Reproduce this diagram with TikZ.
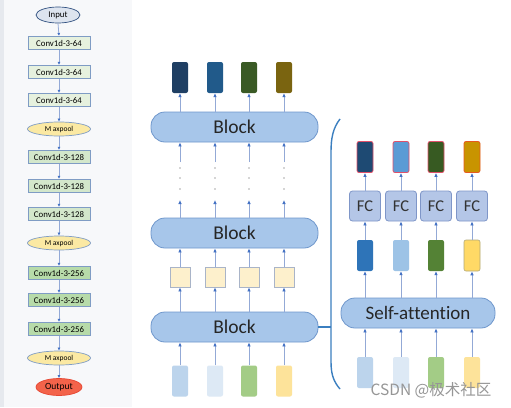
\documentclass[tikz,border=0pt]{standalone}
\usepackage{fontspec}
\setmainfont{Carlito}[Ligatures={NoCommon}]
\newfontfamily\cjkf{Noto Sans CJK SC}
\usetikzlibrary{arrows.meta,shapes.geometric}
\definecolor{blockfill}{HTML}{A7C6EA}
\definecolor{blockdraw}{HTML}{6F97CC}
\definecolor{arrline}{HTML}{93A9D6}
\definecolor{arrhead}{HTML}{4472C4}
\definecolor{boxdraw}{HTML}{7F9CC4}
\definecolor{gA}{HTML}{E6F1DE}
\definecolor{gB}{HTML}{D3E7CB}
\definecolor{gC}{HTML}{B7DBA9}
\definecolor{poolfill}{HTML}{FBE9A3}
\definecolor{outfill}{HTML}{F3634A}
\definecolor{infill}{HTML}{DDE4EF}
\definecolor{oA}{HTML}{1F3F63}
\definecolor{oB}{HTML}{215A8A}
\definecolor{oC}{HTML}{3A5A25}
\definecolor{oD}{HTML}{7A6410}
\definecolor{iA}{HTML}{BCD4EC}
\definecolor{iB}{HTML}{DDE9F5}
\definecolor{iC}{HTML}{A3CC86}
\definecolor{iD}{HTML}{FDE39A}
\definecolor{sqfill}{HTML}{FDF0CC}
\definecolor{sqdraw}{HTML}{A9B4C8}
\definecolor{fcfill}{HTML}{B4C6E7}
\definecolor{fcdraw}{HTML}{7F96C8}
\definecolor{tA}{HTML}{1E4A73}
\definecolor{tB}{HTML}{5B9BD5}
\definecolor{tC}{HTML}{375A22}
\definecolor{tD}{HTML}{C89400}
\definecolor{mA}{HTML}{2E74B8}
\definecolor{mB}{HTML}{9DC3E6}
\definecolor{mC}{HTML}{548235}
\definecolor{mD}{HTML}{FFD966}
\definecolor{redline}{HTML}{E0506A}
\definecolor{bracecol}{HTML}{3B7FC0}
\tikzset{
  arr/.style={draw=arrline, line width=0.9pt, -{Latex[length=4pt,width=3.6pt,color=arrhead]}},
  sarr/.style={draw=arrline, line width=0.8pt, -{Latex[length=3pt,width=3pt,color=arrhead]}},
  convbox/.style={rectangle, draw=boxdraw, line width=0.7pt, minimum width=62pt, minimum height=13.5pt, inner sep=0pt, font=\fontsize{8.8}{9}\selectfont},
  pool/.style={ellipse, draw=boxdraw, line width=0.7pt, fill=poolfill, minimum width=63pt, minimum height=14pt, inner sep=0pt, font=\fontsize{7.5}{8}\selectfont},
  blockbox/.style={rectangle, rounded corners=14pt, draw=blockdraw, fill=blockfill, line width=0.8pt, minimum width=167pt, minimum height=30pt, inner sep=0pt, font=\fontsize{19.5}{20}\selectfont, text=black!85},
  cell/.style={rectangle, rounded corners=2pt, minimum width=16pt, minimum height=31pt, inner sep=0pt},
  sq/.style={rectangle, draw=sqdraw, fill=sqfill, line width=0.8pt, minimum width=20pt, minimum height=20pt, inner sep=0pt},
  fcbox/.style={rectangle, rounded corners=3pt, draw=fcdraw, fill=fcfill, line width=0.8pt, minimum width=31pt, minimum height=30pt, inner sep=0pt, font=\fontsize{16.5}{17}\selectfont, text=black!80},
  bracestyle/.style={draw=bracecol, line width=1.4pt}
}
\begin{document}
\begin{tikzpicture}[x=1pt,y=-1pt]
\useasboundingbox (0,0) rectangle (511,407);
\fill[white] (0,0) rectangle (511,407);
\fill[fill={rgb,255:red,247;green,248;blue,250}] (4,0) rectangle (132,407);
\fill[fill={rgb,255:red,230;green,233;blue,238}] (0,0) rectangle (4,407);
% left column
\node[ellipse, draw={rgb,255:red,47;green,79;blue,127}, line width=0.7pt, fill=infill, minimum width=44pt, minimum height=16pt, inner sep=0pt, font=\fontsize{8.8}{9}\selectfont] (l0) at (58,15) {Input};
\node[convbox, fill=gA] (l1) at (59,43) {Conv1d-3-64};
\node[convbox, fill=gA] (l2) at (59,72) {Conv1d-3-64};
\node[convbox, fill=gA] (l3) at (59,100) {Conv1d-3-64};
\node[pool] (l4) at (59,129) {M\hspace{1.6pt}axpool};
\node[convbox, fill=gB] (l5) at (59,157) {Conv1d-3-128};
\node[convbox, fill=gB] (l6) at (59,186) {Conv1d-3-128};
\node[convbox, fill=gB] (l7) at (59,214) {Conv1d-3-128};
\node[pool] (l8) at (59,243) {M\hspace{1.6pt}axpool};
\node[convbox, fill=gC] (l9) at (59,273) {Conv1d-3-256};
\node[convbox, fill=gC] (l10) at (59,300) {Conv1d-3-256};
\node[convbox, fill=gC] (l11) at (59,329) {Conv1d-3-256};
\node[pool] (l12) at (59,358) {M\hspace{1.6pt}axpool};
\node[ellipse, draw={rgb,255:red,230;green,70;blue,50}, line width=0.7pt, fill=outfill, minimum width=46pt, minimum height=17pt, inner sep=0pt, font=\fontsize{9.5}{10}\selectfont] (l13) at (59,387) {Output};
\foreach \a/\b in {l0/l1,l1/l2,l2/l3,l3/l4,l4/l5,l5/l6,l6/l7,l7/l8,l8/l9,l9/l10,l10/l11,l11/l12,l12/l13}
  \draw[sarr] (\a.south) -- (\b.north);
% middle stack
\node[blockbox] (bt) at (234.5,127) {Block};
\node[blockbox] (bm) at (234.5,233) {Block};
\node[blockbox] (bl) at (234.5,327) {Block};
\foreach \i/\x/\c in {1/180/oA,2/215/oB,3/249/oC,4/284/oD}{
  \node[cell, fill=\c] (o\i) at (\x,77.5) {};
  \draw[arr] (bt.north -| o\i) -- (o\i.south);
  \coordinate (d\i) at (\x,162);
  \coordinate (e\i) at (\x,200);
  \draw[arr] (d\i) -- (bt.south -| d\i);
  \draw[arr] (bm.north -| e\i) -- (e\i);
  \fill[black!70] (\x,168) circle (0.7pt) (\x,178) circle (0.7pt) (\x,189) circle (0.7pt);
  \node[sq] (s\i) at (\x,277) {};
  \draw[arr] (bl.north -| s\i) -- (s\i.south);
  \draw[arr] (s\i.north) -- (bm.south -| s\i);
}
\node[cell, fill=iA] (i1) at (180,381) {};
\node[cell, fill=iB] (i2) at (215,381) {};
\node[cell, fill=iC] (i3) at (249,381) {};
\node[cell, fill=iD] (i4) at (284,381) {};
\foreach \i in {1,2,3,4} \draw[arr] (i\i.north) -- (bl.south -| i\i);
% brace
\coordinate (bj) at (331,327);
\draw[bracestyle] (bl.east) -- (bj);
\draw[bracestyle] (340,119) .. controls (333,128) and (331,138) .. (331,152) -- (331,362) .. controls (331,375) and (334,382) .. (340,389);
% right detail
\node[blockbox, minimum width=154pt, font=\fontsize{19}{20}\selectfont] (sa) at (418,313) {Self-attention};
\node[cell, fill=tA, draw=redline, line width=0.8pt] (t1) at (365,157) {};
\node[cell, fill=tB, draw=redline, line width=0.8pt] (t2) at (401,157) {};
\node[cell, fill=tC, draw=redline, line width=0.8pt] (t3) at (436,157) {};
\node[cell, fill=tD, draw={rgb,255:red,230;green,90;blue,30}, line width=0.8pt] (t4) at (472,157) {};
\node[cell, fill=mA] (m1) at (365,255.5) {};
\node[cell, fill=mB] (m2) at (401,255.5) {};
\node[cell, fill=mC] (m3) at (436,255.5) {};
\node[cell, fill=mD, draw={rgb,255:red,176;green,168;blue,120}, line width=0.6pt] (m4) at (472,255.5) {};
\node[cell, fill=iA] (r1) at (365,372.5) {};
\node[cell, fill=iB] (r2) at (401,372.5) {};
\node[cell, fill=iC] (r3) at (436,372.5) {};
\node[cell, fill=iD] (r4) at (472,372.5) {};
\foreach \i/\x in {1/365,2/401,3/436,4/472}{
  \node[fcbox] (f\i) at (\x,206) {FC};
  \draw[arr] (f\i.north) -- (t\i.south);
  \draw[arr] (m\i.north) -- (f\i.south);
  \draw[arr] (sa.north -| m\i) -- (m\i.south);
  \draw[arr] (r\i.north) -- (sa.south -| r\i);
}
% watermark
\node[text={rgb,255:red,150;green,150;blue,150}, font=\cjkf\fontsize{15.5}{16}\selectfont, inner sep=0pt] (wm) at (431,390) {CSDN @极术社区};
\end{tikzpicture}
\end{document}
